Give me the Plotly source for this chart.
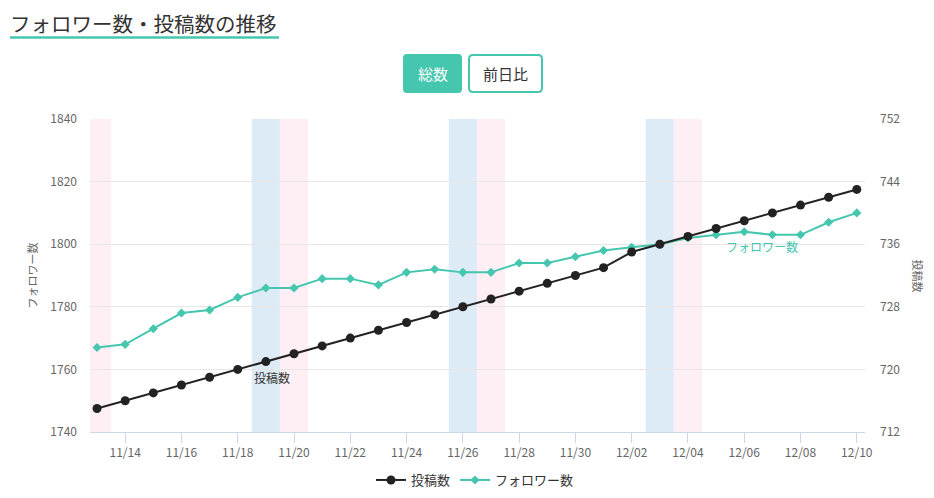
import pandas as pd
import plotly.graph_objects as go

# daily values, 2022-11-13 .. 2022-12-10
dates = pd.date_range("2022-11-13", "2022-12-10", freq="D")
followers = [1767, 1768, 1773, 1778, 1779, 1783, 1786, 1786, 1789, 1789,
             1787, 1791, 1792, 1791, 1791, 1794, 1794, 1796, 1798, 1799,
             1800, 1802, 1803, 1804, 1803, 1803, 1807, 1810]
posts = [715, 716, 717, 718, 719, 720, 721, 722, 723, 724,
         725, 726, 727, 728, 729, 730, 731, 732, 733, 735,
         736, 737, 738, 739, 740, 741, 742, 743]

saturdays = ["2022-11-19", "2022-11-26", "2022-12-03"]
sundays = ["2022-11-13", "2022-11-20", "2022-11-27", "2022-12-04"]

TEAL = "#45c6ae"
DARK = "#222222"
FONT = "Noto Sans CJK JP"

# the page body adds an 8px margin, so the figure sits at (8, 8)
OFF = 8
W, H = 934 - 2 * OFF, 498 - 2 * OFF
# plot area in window pixels
L, R, T, B = 90, 865, 119, 432


def px(x):
    return (x - L) / (R - L)


def py(y):
    return (B - y) / (B - T)


def round_rect(x0, y0, x1, y1, r=4):
    # rounded rectangle path in paper coords, input in window pixels
    rx, ry = r / (R - L), r / (B - T)
    a, b, c, d = px(x0), py(y1), px(x1), py(y0)
    return (f"M {a+rx},{b} L {c-rx},{b} Q {c},{b} {c},{b+ry} "
            f"L {c},{d-ry} Q {c},{d} {c-rx},{d} L {a+rx},{d} "
            f"Q {a},{d} {a},{d-ry} L {a},{b+ry} Q {a},{b} {a+rx},{b} Z")


fig = go.Figure()

fig.add_trace(go.Scatter(
    x=dates, y=posts, name="投稿数", yaxis="y2",
    mode="lines+markers",
    line=dict(color=DARK, width=2),
    marker=dict(symbol="circle", size=9, color=DARK),
))
fig.add_trace(go.Scatter(
    x=dates, y=followers, name="フォロワー数",
    mode="lines+markers",
    line=dict(color=TEAL, width=2),
    marker=dict(symbol="diamond", size=7, color=TEAL),
))

shapes = []
half = pd.Timedelta(hours=12)
for d in saturdays:
    t = pd.Timestamp(d)
    shapes.append(dict(type="rect", xref="x", yref="paper", x0=t - half, x1=t + half,
                       y0=0, y1=1, fillcolor="#dcebf6", line_width=0, layer="below"))
for d in sundays:
    t = pd.Timestamp(d)
    shapes.append(dict(type="rect", xref="x", yref="paper", x0=t - half, x1=t + half,
                       y0=0, y1=1, fillcolor="#fdeff3", line_width=0, layer="below"))

# title underline
shapes.append(dict(type="line", xref="paper", yref="paper",
                   x0=px(10), x1=px(279), y0=py(37.5), y1=py(37.5),
                   line=dict(color=TEAL, width=2.5)))
# buttons
shapes.append(dict(type="path", xref="paper", yref="paper",
                   path=round_rect(403, 54, 462, 93), fillcolor=TEAL, line_width=0))
shapes.append(dict(type="path", xref="paper", yref="paper",
                   path=round_rect(469, 55, 542, 92), fillcolor="white",
                   line=dict(color=TEAL, width=2)))

annotations = [
    dict(text="フォロワー数・投稿数の推移", xref="paper", yref="paper",
         x=px(9), y=py(22.5), xanchor="left", yanchor="middle", showarrow=False,
         borderpad=0,
         font=dict(family=FONT, size=20.5, color="#333333")),
    dict(text="総数", xref="paper", yref="paper", x=px(432.5), y=py(73.5),
         xanchor="center", yanchor="middle",
         showarrow=False, font=dict(family=FONT, size=15, color="white")),
    dict(text="前日比", xref="paper", yref="paper", x=px(505.5), y=py(73.5),
         xanchor="center", yanchor="middle",
         showarrow=False, font=dict(family=FONT, size=15, color="#333333")),
    dict(text="フォロワー数", xref="paper", yref="paper", x=px(31), y=0.5,
         xanchor="center", yanchor="middle",
         textangle=-90, showarrow=False, font=dict(family=FONT, size=11, color="#666666")),
    dict(text="投稿数", xref="paper", yref="paper", x=px(918), y=0.5,
         xanchor="center", yanchor="middle",
         textangle=90, showarrow=False, font=dict(family=FONT, size=11, color="#666666")),
    dict(text="投稿数", xref="paper", yref="paper", x=px(272), y=py(377),
         xanchor="center", yanchor="middle",
         showarrow=False, font=dict(family=FONT, size=12, color="#333333")),
    dict(text="フォロワー数", xref="paper", yref="paper", x=px(762), y=py(246),
         xanchor="center", yanchor="middle",
         showarrow=False, font=dict(family=FONT, size=12, color=TEAL)),
]

fig.update_layout(
    width=W, height=H,
    margin=dict(l=L - OFF, r=W - (R - OFF), t=T - OFF, b=H - (B - OFF), autoexpand=False),
    paper_bgcolor="white", plot_bgcolor="white",
    font=dict(family=FONT, color="#666666"),
    showlegend=True,
    legend=dict(orientation="h", x=px(475), xanchor="center", y=py(480), yanchor="middle",
                font=dict(family=FONT, size=13, color="#333333"), itemwidth=30),
    xaxis=dict(
        type="date",
        range=[pd.Timestamp("2022-11-12 18:00"), pd.Timestamp("2022-12-10 07:00")],
        tick0="2022-11-14", dtick=2 * 86400000, tickformat="%m/%d",
        showgrid=False, zeroline=False,
        showline=True, linecolor="#ccd6eb", linewidth=1,
        ticks="outside", ticklen=10, tickcolor="#ccd6eb",
        tickfont=dict(size=12, color="#666666"),
    ),
    yaxis=dict(
        range=[1740, 1840], dtick=20,
        showgrid=True, gridcolor="#e6e6e6", zeroline=False,
        tickfont=dict(size=12, color="#666666"), ticklabelstandoff=12,
    ),
    yaxis2=dict(
        range=[712, 752], dtick=8, overlaying="y", side="right",
        showgrid=False, zeroline=False,
        tickfont=dict(size=12, color="#666666"), ticklabelstandoff=14,
    ),
    shapes=shapes,
    annotations=annotations,
    hovermode="x unified",
)

fig.write_html("out.html")
